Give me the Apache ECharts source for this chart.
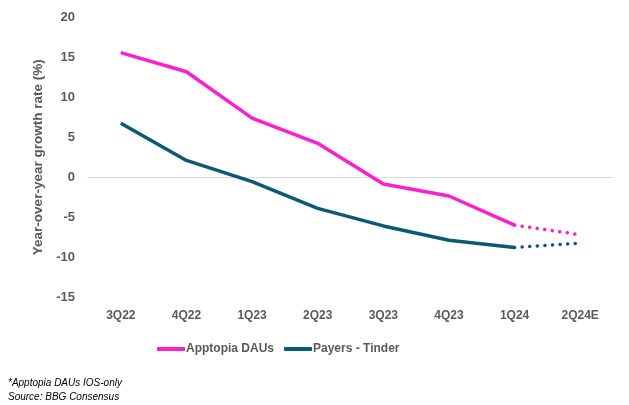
<!DOCTYPE html>
<html>
<head>
<meta charset="utf-8">
<script src="https://cdn.jsdelivr.net/npm/echarts@6/dist/echarts.min.js"></script>
<style>
html,body{margin:0;padding:0;background:#fff;}
#c{width:629px;height:405px;}
</style>
</head>
<body>
<div id="c"></div>
<script>
const categories = ['3Q22','4Q22','1Q23','2Q23','3Q23','4Q23','1Q24','2Q24E'];
const apptopia = [15.6, 13.2, 7.4, 4.25, -0.85, -2.35, -6.0, -7.2];
const payers = [6.75, 2.1, -0.55, -3.9, -6.1, -7.9, -8.8, -8.25];
const yTicks = [-15, -10, -5, 0, 5, 10, 15, 20];
const forecastStart = 6;

const pink = '#FF1FCB';
const teal = '#0B5A70';

function actual(arr){ return arr.map((v,i)=> i<=forecastStart ? v : null); }
function forecast(arr){ return arr.map((v,i)=> i>=forecastStart ? v : null); }

const chart = echarts.init(document.getElementById('c'));
const fam = 'Liberation Sans, Arial, sans-serif';
const labelStyle = {color:'#595959', fontSize:12, fontWeight:'bold', fontFamily:fam};
chart.setOption({
  animation:false,
  grid:{left:88, right:16, top:17.5, bottom:108},
  xAxis:{
    type:'category', data:categories, boundaryGap:true,
    axisLine:{show:true, onZero:true, lineStyle:{color:'#d9d9d9', width:1}},
    axisTick:{show:false},
    axisLabel:Object.assign({margin:13, interval:0}, labelStyle),
    splitLine:{show:false}
  },
  yAxis:{
    type:'value', min:yTicks[0], max:yTicks[yTicks.length-1], interval:5,
    axisLine:{show:false}, axisTick:{show:false}, splitLine:{show:false},
    axisLabel:Object.assign({}, labelStyle, {margin:13, fontSize:13}),
    name:'Year-over-year growth rate (%)', nameLocation:'middle', nameGap:40,
    nameTextStyle:Object.assign({}, labelStyle, {fontSize:13.5})
  },
  legend:{
    data:['Apptopia DAUs','Payers - Tinder'],
    top:338, left:152, itemGap:10,
    icon:'roundRect', itemWidth:28, itemHeight:4,
    textStyle:Object.assign({}, labelStyle, {fontSize:12, padding:[0,0,0,-4]})
  },
  graphic:[
    {type:'text', left:8, top:378, style:{text:'*Apptopia DAUs IOS-only', fill:'#000', font:'italic 10px ' + fam}},
    {type:'text', left:8, top:392, style:{text:'Source: BBG Consensus', fill:'#000', font:'italic 10px ' + fam}}
  ],
  series:[
    {name:'Apptopia DAUs', type:'line', data:actual(apptopia), showSymbol:false, symbol:'none',
     lineStyle:{color:pink, width:3.5}, itemStyle:{color:pink}},
    {name:'Payers - Tinder', type:'line', data:actual(payers), showSymbol:false, symbol:'none',
     lineStyle:{color:teal, width:3.5}, itemStyle:{color:teal}},
    {name:'Apptopia DAUs', type:'line', data:forecast(apptopia), showSymbol:false, symbol:'none',
     lineStyle:{color:pink, width:3.5, type:[0.1,7.5], cap:'round'}, itemStyle:{color:pink}},
    {name:'Payers - Tinder', type:'line', data:forecast(payers), showSymbol:false, symbol:'none',
     lineStyle:{color:teal, width:3.5, type:[0.1,7.5], cap:'round'}, itemStyle:{color:teal}}
  ]
});
</script>
</body>
</html>
